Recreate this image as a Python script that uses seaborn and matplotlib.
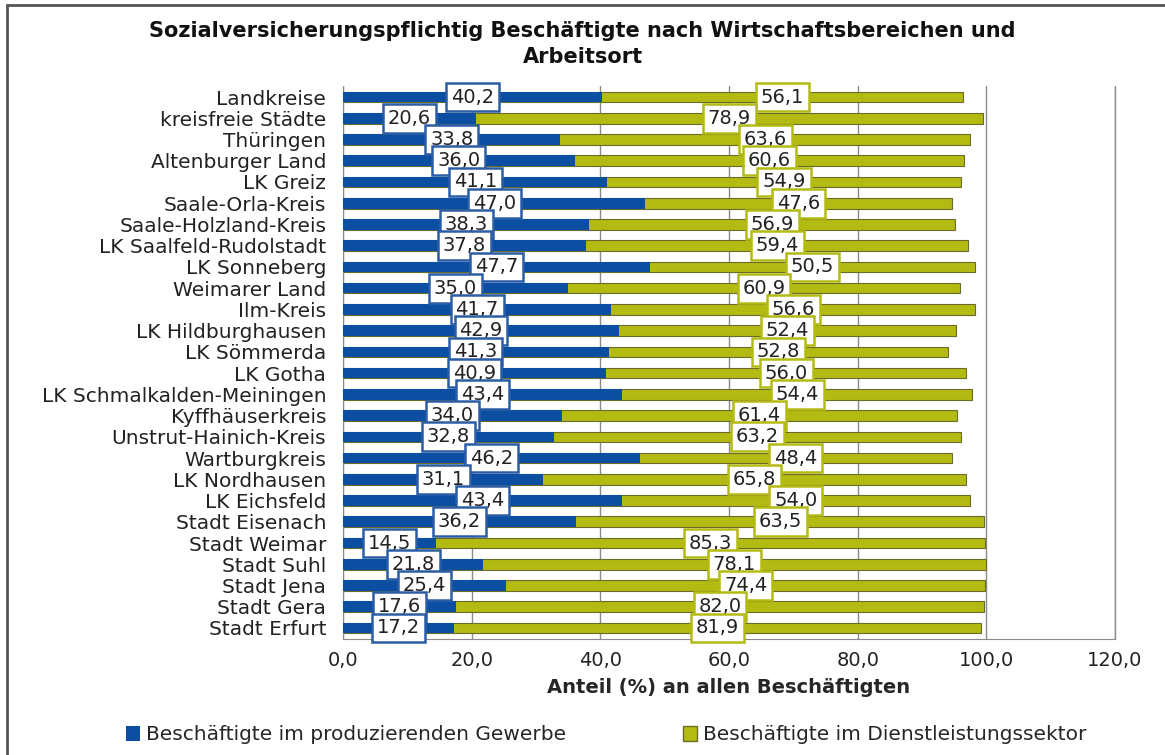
import matplotlib
matplotlib.use("Agg")
import matplotlib.pyplot as plt
import seaborn as sns
import pandas as pd
from matplotlib.patches import Rectangle, Patch

kreise = ["Landkreise", "kreisfreie Städte", "Thüringen", "Altenburger Land", "LK Greiz",
          "Saale-Orla-Kreis", "Saale-Holzland-Kreis", "LK Saalfeld-Rudolstadt", "LK Sonneberg",
          "Weimarer Land", "Ilm-Kreis", "LK Hildburghausen", "LK Sömmerda", "LK Gotha",
          "LK Schmalkalden-Meiningen", "Kyffhäuserkreis", "Unstrut-Hainich-Kreis", "Wartburgkreis",
          "LK Nordhausen", "LK Eichsfeld", "Stadt Eisenach", "Stadt Weimar", "Stadt Suhl",
          "Stadt Jena", "Stadt Gera", "Stadt Erfurt"]
produzierend = [40.2, 20.6, 33.8, 36.0, 41.1, 47.0, 38.3, 37.8, 47.7, 35.0, 41.7, 42.9, 41.3,
                40.9, 43.4, 34.0, 32.8, 46.2, 31.1, 43.4, 36.2, 14.5, 21.8, 25.4, 17.6, 17.2]
dienstleistung = [56.1, 78.9, 63.6, 60.6, 54.9, 47.6, 56.9, 59.4, 50.5, 60.9, 56.6, 52.4, 52.8,
                  56.0, 54.4, 61.4, 63.2, 48.4, 65.8, 54.0, 63.5, 85.3, 78.1, 74.4, 82.0, 81.9]
xticks = [0, 20, 40, 60, 80, 100, 120]

blau = "#0b4ea2"
gruen = "#b3bb13"

df = pd.DataFrame({"kreis": kreise, "prod": produzierend, "dienst": dienstleistung})
df["summe"] = df["prod"] + df["dienst"]

sns.set_style("white")
plt.rcParams["font.family"] = ["DejaVu Sans"]
fs = 14

fig = plt.figure(figsize=(11.65, 7.55), dpi=100)
ax = fig.add_axes([343 / 1165, 1 - 638.6 / 755, (1115 - 343) / 1165, (638.6 - 86.4) / 755])

# green = stacked total, blue on top
sns.barplot(data=df, x="summe", y="kreis", color=gruen, orient="h", width=0.5,
            edgecolor="#6b6b2a", linewidth=0.8, ax=ax, saturation=1, zorder=2)
sns.barplot(data=df, x="prod", y="kreis", color=blau, orient="h", width=0.5,
            linewidth=0, ax=ax, saturation=1, zorder=3)

def fmt(v):
    return f"{v:.1f}".replace(".", ",")

for i, (p, d) in enumerate(zip(produzierend, dienstleistung)):
    ax.text(p / 2, i, fmt(p), ha="center", va="center", fontsize=14, color="#222222", zorder=5,
            bbox=dict(boxstyle="square,pad=0.25", fc="white", ec="#2a5da6", lw=1.8))
    ax.text(p + d / 2, i, fmt(d), ha="center", va="center", fontsize=14, color="#222222", zorder=5,
            bbox=dict(boxstyle="square,pad=0.25", fc="white", ec=gruen, lw=1.8))

ax.set_xlim(0, 120)
ax.set_ylim(25.5, -0.5)
ax.set_xticks(xticks)
ax.set_xticklabels([fmt(v) for v in xticks], fontsize=fs, color="#222222")
ax.xaxis.grid(True, color="#8a8a8a", lw=1)
ax.axvline(120, color="#8a8a8a", lw=1, clip_on=False, zorder=0)
ax.set_axisbelow(True)
for s in ["top", "right"]:
    ax.spines[s].set_visible(False)
for s in ["left", "bottom"]:
    ax.spines[s].set_color("#8a8a8a")
ax.tick_params(axis="y", labelsize=14.5, labelcolor="#222222", length=0, pad=12)
ax.tick_params(axis="x", length=0, pad=9)
# category boundary ticks
ax.set_yticks([i + 0.5 for i in range(-1, 26)], minor=True)
ax.tick_params(axis="y", which="minor", length=6, color="#8a8a8a", direction="out")
ax.set_xticks(xticks, minor=True)
ax.tick_params(axis="x", which="minor", length=6, color="#8a8a8a", direction="out")
ax.set_ylabel("")
ax.set_xlabel("Anteil (%) an allen Beschäftigten", fontsize=fs, fontweight="bold", labelpad=6)

fig.suptitle("Sozialversicherungspflichtig Beschäftigte nach Wirtschaftsbereichen und\nArbeitsort",
             x=0.5, y=0.972, fontsize=15, fontweight="bold", linespacing=1.35, color="#111111")

handles = [Patch(facecolor=blau, edgecolor="none"), Patch(facecolor=gruen, edgecolor="#6b6b2a")]
fig.legend(handles, ["Beschäftigte im produzierenden Gewerbe", "Beschäftigte im Dienstleistungssektor"],
           loc="center", bbox_to_anchor=(0.52, 1 - 735 / 755), ncol=2, frameon=False, fontsize=14.5,
           handlelength=0.7, handleheight=0.7, handletextpad=0.3, columnspacing=5.8)

fig.patches.append(Rectangle((7 / 1165, -0.1), 1.2, 1 - 5 / 755 + 0.1, transform=fig.transFigure,
                             fill=False, ec="#555555", lw=2))

fig.savefig("out.png", dpi=100)
